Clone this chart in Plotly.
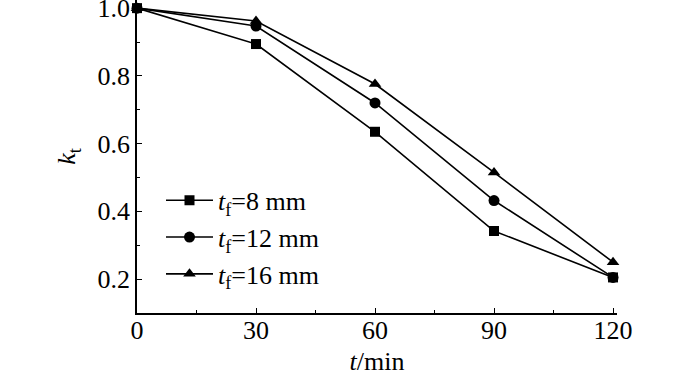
import plotly.graph_objects as go

t_min = [0, 30, 60, 90, 120]
k_8 = [1.0, 0.894, 0.635, 0.342, 0.205]
k_12 = [1.0, 0.947, 0.72, 0.432, 0.205]
k_16 = [1.0, 0.962, 0.776, 0.515, 0.25]
names = ["<i>t</i><sub>f</sub>=8 mm", "<i>t</i><sub>f</sub>=12 mm", "<i>t</i><sub>f</sub>=16 mm"]
symbols = ["square", "circle", "triangle-up"]

FONT = "Liberation Serif, Times New Roman, serif"
fig = go.Figure()
for ys, nm, sym, sz in zip([k_8, k_12, k_16], names, symbols, [10, 11, 11]):
    fig.add_trace(go.Scatter(x=t_min, y=ys, name=nm, mode="lines+markers",
                             line=dict(color="black", width=1.6),
                             marker=dict(symbol=sym, size=sz, color="black"),
                             cliponaxis=False))

fig.update_layout(
    width=700, height=376, margin=dict(l=137, r=83, t=0, b=63, autoexpand=False),
    paper_bgcolor="white", plot_bgcolor="white",
    font=dict(family=FONT, size=26, color="black"),
    showlegend=True,
    legend=dict(x=0.05, y=0.435, xanchor="left", yanchor="top", bgcolor="rgba(0,0,0,0)",
                font=dict(family=FONT, size=26), tracegroupgap=0, itemwidth=47),
    xaxis=dict(range=[0, 121], tickvals=[0, 30, 60, 90, 120], showline=True, linecolor="black",
               linewidth=1.5, ticks="inside", ticklen=5, tickcolor="black", showgrid=False,
               zeroline=False, automargin=False, ticklabelstandoff=-7,
               minor=dict(ticks="inside", ticklen=3, dtick=15, tick0=0, tickcolor="black", showgrid=False),
               title=dict(text="<i>t</i>/min", standoff=12, font=dict(family=FONT, size=26)),
               tickfont=dict(family=FONT, size=26), ticklabeloverflow="allow"),
    yaxis=dict(range=[0.1, 1.024], tickvals=[0.2, 0.4, 0.6, 0.8, 1.0], ticktext=["0.2", "0.4", "0.6", "0.8", "1.0"],
               showline=True, linecolor="black", linewidth=1.5, ticks="inside", ticklen=5, tickcolor="black",
               showgrid=False, zeroline=False, automargin=False,
               minor=dict(ticks="inside", ticklen=3, dtick=0.1, tick0=0, tickcolor="black", showgrid=False),
               title=dict(text="<i>k</i><sub>t</sub>", standoff=14, font=dict(family=FONT, size=26)),
               tickfont=dict(family=FONT, size=26), ticklabeloverflow="allow"),
)
fig.write_html("out.html", config={"displayModeBar": False},
               post_script="document.body.style.margin='0';")
